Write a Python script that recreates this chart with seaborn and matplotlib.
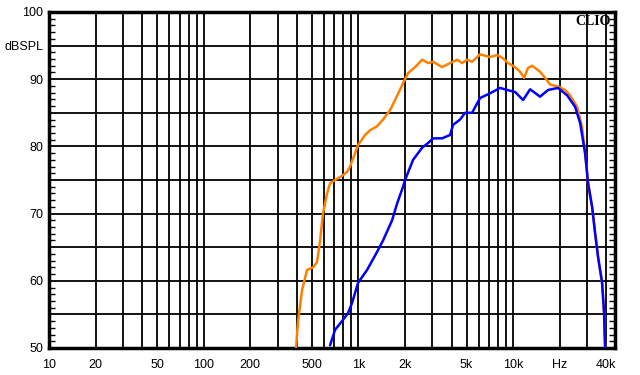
import numpy as np
import pandas as pd
import matplotlib
matplotlib.use("Agg")
import matplotlib.pyplot as plt
import seaborn as sns
from matplotlib.ticker import FixedLocator, NullFormatter

# --- data ---
orange_freq = [395, 407, 432, 465, 509, 540, 565, 590, 627, 655, 706, 780, 844, 882, 951, 994,
               1103, 1189, 1319, 1442, 1601, 1724, 1942, 2092, 2322, 2577, 2818, 3036, 3471,
               3910, 4338, 4673, 5035, 5424, 6109, 7092, 7869, 8604, 9268, 10287, 11081,
               11764, 12488, 13256, 14925, 16080, 17324, 19509, 21652, 23327, 25882, 27884,
               29159, 30492, 32359, 33838, 35384, 37548, 38684, 39264]
orange_db = [50, 54, 58.6, 61.6, 62, 62.8, 66, 70, 73, 74.5, 75, 75.6, 76.2, 77, 79, 80.2,
             81.7, 82.4, 83, 84, 85.4, 86.9, 89.4, 90.9, 91.8, 92.9, 92.4, 92.6, 91.8,
             92.4, 92.9, 92.4, 92.9, 92.6, 93.7, 93.3, 93.6, 93.1, 92.4, 91.8, 91.1,
             90.2, 91.7, 92.0, 91.1, 90.2, 89.2, 88.9, 88.4, 87.6, 85.9, 82.9,
             79, 74.5, 71, 67.1, 63.5, 59.7, 55.2, 50]

blue_freq = [655, 706, 795, 857, 909, 994, 1136, 1319, 1442, 1649, 1777, 1942, 2001, 2254,
             2577, 2818, 3036, 3471, 3910, 4088, 4537, 4888, 5424, 6109, 7092, 8229, 9133,
             10287, 11588, 12860, 14925, 16815, 19509, 22305, 25126, 27070, 29159, 30492,
             32359, 33838, 35384, 37548, 38684, 39264]
blue_db = [50.4, 52.7, 54.2, 55.2, 56.7, 59.7, 61.6, 64.3, 66, 69, 71.5, 74, 75, 78,
           79.8, 80.5, 81.2, 81.2, 81.7, 83.2, 84, 85, 85, 87.2, 87.9, 88.7, 88.4,
           88.1, 86.9, 88.5, 87.4, 88.4, 88.7, 87.6, 85.9, 83.5, 79, 74.5,
           71, 67.1, 63.5, 59.7, 55.2, 50]

x_tick_values = [10, 20, 50, 100, 200, 500, 1000, 2000, 5000, 10000, 20000, 40000]
x_tick_labels = ["10", "20", "50", "100", "200", "500", "1k", "2k", "5k", "10k", "Hz", "40k"]
y_tick_values = [50, 55, 60, 65, 70, 75, 80, 85, 90, 95, 100]
y_tick_labels = ["50", "", "60", "", "70", "", "80", "", "90", "dBSPL", "100"]

sns.set_style("white")
plt.rcParams["font.family"] = ["Liberation Sans", "DejaVu Sans"]

fig = plt.figure(figsize=(6.4, 3.75), dpi=100)
ax = fig.add_axes([49 / 640, 27 / 375, 566 / 640, 336 / 375])

df_o = pd.DataFrame({"f": orange_freq, "db": orange_db})
df_b = pd.DataFrame({"f": blue_freq, "db": blue_db})
sns.lineplot(data=df_o, x="f", y="db", ax=ax, color="#FF8000", lw=1.8, zorder=3)
sns.lineplot(data=df_b, x="f", y="db", ax=ax, color="#0000FF", lw=1.8, zorder=4)

ax.set_xscale("log")
ax.set_xlim(10, 45500)
ax.set_ylim(50, 100)

minor_x = [m * d for d in [10, 100, 1000, 10000] for m in range(1, 10)
           if m * d not in x_tick_values and m * d <= 40000]
ax.xaxis.set_major_locator(FixedLocator(x_tick_values))
ax.set_xticklabels(x_tick_labels)
ax.xaxis.set_minor_locator(FixedLocator(minor_x))
ax.xaxis.set_minor_formatter(NullFormatter())

ax.yaxis.set_major_locator(FixedLocator(y_tick_values))
ax.set_yticklabels(y_tick_labels)
ax.yaxis.set_minor_locator(FixedLocator(list(range(50, 101))))

ax.grid(True, which="both", axis="x", color="black", lw=1.3)
ax.grid(True, which="major", axis="y", color="black", lw=1.3)
ax.set_axisbelow(True)

ax.tick_params(axis="x", which="both", length=0, pad=8, labelsize=9, colors="black")
ax.tick_params(axis="y", which="major", length=0, pad=4, labelsize=9, colors="black")
ax.tick_params(axis="y", which="minor", direction="in", length=4, width=1,
               left=True, right=True, color="black")

for s in ax.spines.values():
    s.set_color("black")
    s.set_linewidth(2.5)

ax.set_xlabel("")
ax.set_ylabel("")

ax.text(0.992, 0.99, "CLIO", transform=ax.transAxes, ha="right", va="top",
        fontsize=10, fontweight="bold", family=["Liberation Serif", "DejaVu Serif"],
        color="black", zorder=5)

fig.savefig("out.png", dpi=100)
